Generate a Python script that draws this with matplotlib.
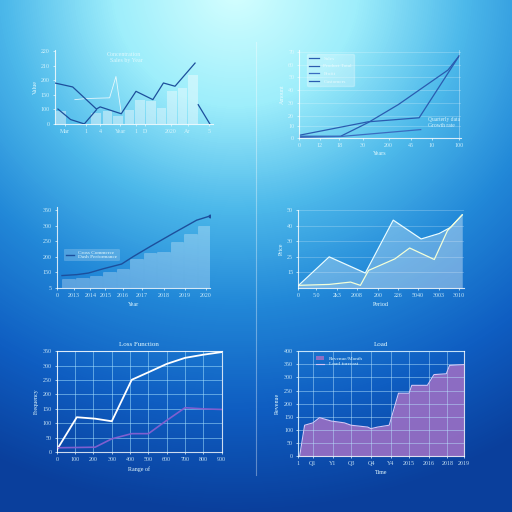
import numpy as np
import matplotlib.pyplot as plt
from matplotlib.colors import LinearSegmentedColormap

# ---------------- data ----------------
# panel 1 (top left): bars + lines
p1_bar_x = [0.6, 3.9, 5.0, 6.0, 7.1, 8.1, 9.1, 10.1, 11.1, 12.1, 13.1]
p1_bar_h = [35, 30, 35, 21, 39, 67, 62, 44, 90, 99, 136]
p1_a_x = [0, 1.7, 3.95, 4.3, 6.3, 7.7, 9.3, 10.3, 11.4, 13.3]
p1_a_y = [113, 102, 41, 47, 28, 90, 67, 113, 104, 168]
p1_b_x = [0.3, 1.5, 2.8, 3.95]
p1_b_y = [41, 12, 0, 39]
p1_c_x = [13.6, 14.7]
p1_c_y = [53, 0]
p1_w_x = [1.9, 3.0, 5.2, 5.8, 6.3]
p1_w_y = [67, 70, 72, 131, 30]
p1_xticks = [1, 3, 4.3, 6.2, 7.7, 8.6, 11.0, 12.6, 14.6]
p1_xlabels = ["Mar", "1", "4", "Year", "1", "D", "2020", "Ar", "5"]
p1_yticks = [0, 40, 80, 120, 160, 200]
p1_ylabels = ["0", "100", "150", "200", "210", "220"]

# panel 2 (top right): three lines
p2_a_x = [0, 43, 75, 100]
p2_a_y = [3.4, 19, 23.7, 95.5]
p2_b_x = [0, 26, 43, 62, 93, 100]
p2_b_y = [2.3, 2.3, 18, 39, 79, 95.5]
p2_c_x = [0, 26, 76]
p2_c_y = [1, 2, 10]
p2_legend = ["Sales", "Product Total", "Profit", "Customers"]
p2_xticks = [0, 13, 25, 40, 56, 70, 83, 100]
p2_xlabels = ["0", "12", "18", "30", "200", "45", "10", "100"]
p2_yticks = [0, 14, 26, 41, 56, 71, 85, 100]
p2_ylabels = ["0", "10", "20", "30", "40", "50", "60", "70"]

# panel 3 (middle left): bars + line
p3_bar_h = [30, 32, 37, 53, 61, 94, 112, 117, 149, 172, 200]
p3_line_x = [-0.5, 0.6, 1.45, 2.56, 3.9, 4.76, 6.0, 7.72, 9.44, 10.4]
p3_line_y = [40, 43, 48, 62, 77, 101, 133, 176, 218, 231]
p3_xticks = [-0.88, 0.4, 1.6, 2.7, 4.0, 5.4, 7.0, 8.6, 10.1]
p3_xlabels = ["0", "2013", "2014", "2015", "2016", "2017", "2018", "2019", "2020"]
p3_yticks = [0, 50, 100, 150, 200, 250]
p3_ylabels = ["5", "150", "200", "250", "300", "350"]

# panel 4 (middle right): two lines, filled
p4_top_x = [0, 19, 41, 58, 75, 86, 93, 100]
p4_top_y = [1.3, 20, 9.6, 43.6, 31.5, 35, 39, 47]
p4_low_x = [0, 19, 32, 38, 43, 59, 68, 83, 91, 100]
p4_low_y = [1.7, 2.3, 3.8, 1.7, 11.3, 18.7, 25.7, 18.3, 36.8, 47]
p4_xticks = [0, 11, 24, 36, 49, 61, 73, 86, 98]
p4_xlabels = ["0", "5.0", "2k3", "2008", "200", "226", "5040", "3003", "3010"]
p4_yticks = [10, 20, 30, 40, 50]
p4_ylabels = ["15", "25", "30", "40", "50"]

# panel 5 (bottom left): loss lines
p5_x = [0, 109, 209, 300, 409, 500, 600, 700, 800, 900]
p5_white = [8, 121, 116, 107, 251, 277, 306, 327, 338, 347]
p5_purple_x = [0, 209, 300, 409, 500, 600, 700, 800, 900]
p5_purple = [15, 17, 46, 64, 64, 110, 154, 150, 148]
p5_xlabels = ["0", "100", "200", "300", "400", "500", "600", "700", "800", "900"]
p5_yticks = [0, 50, 100, 150, 200, 250, 300, 350]

# panel 6 (bottom right): stepped area
p6_x = [0, 1, 4, 9, 13, 20, 28, 32, 42, 44, 48, 55, 60.6, 67, 68.6, 78, 82, 89.4, 91.4, 100]
p6_y = [0, 0, 118, 127, 147, 134, 127, 118, 111, 105, 111, 118, 240, 240, 270, 270, 311, 314, 346, 349]
p6_xticks = [0, 9, 21, 32, 44, 56, 67, 79, 90, 100]
p6_xlabels = ["1", "Q1", "Y1", "Q3", "Q4", "Y4", "2015", "2016", "2018", "2019"]
p6_yticks = [0, 50, 100, 150, 200, 250, 300, 350, 400]

TXT = "#e6fbff"
NAVY = "#1d4f9c"
PURPLE = "#7f5fd0"

plt.rcParams.update({"font.family": ["Liberation Serif", "DejaVu Serif"], "font.size": 4})

fig = plt.figure(figsize=(5.12, 5.12), dpi=100)

# ---------------- background gradient ----------------
bg = fig.add_axes([0, 0, 1, 1])
yy, xx = np.mgrid[0:512, 0:512]
d = np.sqrt(((xx - 235) / 512.0) ** 2 * 0.9 + ((yy + 10) / 512.0) ** 2)
cmap = LinearSegmentedColormap.from_list(
    "bg", [(0.0, "#d4ffff"), (0.22, "#9eeefb"), (0.42, "#4cb8ea"),
           (0.60, "#2288d8"), (0.80, "#0f5ec2"), (1.0, "#0a3f9c")])
bg.imshow(np.clip(d / 1.02, 0, 1), cmap=cmap, vmin=0, vmax=1,
          extent=[0, 512, 512, 0], aspect="auto")
bg.plot([256, 256], [42, 475], color="white", alpha=0.35, lw=0.8)
bg.set_xlim(0, 512)
bg.set_ylim(512, 0)
bg.axis("off")


def style(ax, full=False, alpha=0.8):
    ax.patch.set_alpha(0)
    for name, sp in ax.spines.items():
        sp.set_color("white")
        sp.set_alpha(alpha)
        sp.set_linewidth(0.8)
        if not full and name in ("top", "right"):
            sp.set_visible(False)
    ax.tick_params(colors=TXT, labelsize=4.3, length=1.5, width=0.5, pad=2)
    for lab in ax.get_xticklabels() + ax.get_yticklabels():
        lab.set_alpha(0.85)


# ---------------- panel 1 ----------------
ax1 = fig.add_axes([0.107, 0.758, 0.309, 0.145])
ax1.bar(p1_bar_x, p1_bar_h, width=0.9, color="white", alpha=0.4, zorder=1)
ax1.plot(p1_a_x, p1_a_y, color=NAVY, lw=0.9, zorder=3)
ax1.plot(p1_b_x, p1_b_y, color=NAVY, lw=0.9, zorder=3)
ax1.plot(p1_c_x, p1_c_y, color=NAVY, lw=0.9, zorder=3)
ax1.plot(p1_w_x, p1_w_y, color="white", lw=0.6, alpha=0.8, zorder=2)
ax1.set_xlim(0, 15)
ax1.set_ylim(0, 205)
ax1.set_yticks(p1_yticks)
ax1.set_yticklabels(p1_ylabels)
ax1.set_xticks(p1_xticks)
ax1.set_xticklabels(p1_xlabels)
ax1.set_ylabel("Value", color=TXT, fontsize=4.3, labelpad=2)
ax1.text(0.33, 0.83, "Concentration\n  Sales by Year", transform=ax1.transAxes,
         color=TXT, fontsize=4.3, alpha=0.9)
style(ax1)

# ---------------- panel 2 ----------------
ax2 = fig.add_axes([0.584, 0.730, 0.316, 0.172])
ax2.grid(axis="y", color="white", alpha=0.3, lw=0.5)
ax2.plot(p2_a_x, p2_a_y, color="#2a5cb0", lw=0.9, label=p2_legend[0])
ax2.plot(p2_b_x, p2_b_y, color="#2a5cb0", lw=0.9, label=p2_legend[1])
ax2.plot(p2_c_x, p2_c_y, color="#3a6cc0", lw=0.9, label=p2_legend[2])
ax2.plot([], [], color="#2a5cb0", lw=0.9, label=p2_legend[3])
ax2.set_xlim(0, 101)
ax2.set_ylim(0, 102)
ax2.set_xticks(p2_xticks)
ax2.set_xticklabels(p2_xlabels)
ax2.set_yticks(p2_yticks)
ax2.set_yticklabels(p2_ylabels)
ax2.set_xlabel("Years", color=TXT, fontsize=4.3, labelpad=2)
ax2.set_ylabel("Amount", color=TXT, fontsize=4.3, labelpad=2)
ax2.axvline(100, color="white", alpha=0.4, lw=0.6)
leg = ax2.legend(loc="upper left", fontsize=3.8, frameon=True,
                 bbox_to_anchor=(0.03, 0.99), handlelength=2, labelspacing=0.6)
leg.get_frame().set_facecolor("white")
leg.get_frame().set_alpha(0.25)
leg.get_frame().set_edgecolor("white")
for t in leg.get_texts():
    t.set_color(TXT)
ax2.text(0.80, 0.13, "Quarterly data\nGrowth rate", transform=ax2.transAxes,
         color=TXT, fontsize=4, alpha=0.9)
style(ax2)

# ---------------- panel 3 ----------------
ax3 = fig.add_axes([0.111, 0.4375, 0.299, 0.158])
ax3.bar(range(len(p3_bar_h)), p3_bar_h, width=0.93, color="white", alpha=0.28,
        edgecolor="white", linewidth=0.4)
ax3.plot(p3_line_x, p3_line_y, color=NAVY, lw=1.0, label="Cross Commerce\nDash Performance")
ax3.plot(p3_line_x[-1], p3_line_y[-1], "o", color=NAVY, ms=1.8)
ax3.set_xlim(-0.88, 10.42)
ax3.set_ylim(0, 260)
ax3.set_xticks(p3_xticks)
ax3.set_xticklabels(p3_xlabels)
ax3.set_yticks(p3_yticks)
ax3.set_yticklabels(p3_ylabels)
ax3.set_xlabel("Year", color=TXT, fontsize=4.3, labelpad=3)
leg3 = ax3.legend(loc="upper left", bbox_to_anchor=(0.03, 0.52), fontsize=3.8,
                  frameon=True, handlelength=1.5)
leg3.get_frame().set_facecolor("white")
leg3.get_frame().set_alpha(0.2)
leg3.get_frame().set_edgecolor("none")
for t in leg3.get_texts():
    t.set_color(TXT)
style(ax3)

# ---------------- panel 4 ----------------
ax4 = fig.add_axes([0.582, 0.4375, 0.324, 0.152])
ax4.grid(axis="y", color="white", alpha=0.3, lw=0.5)
ax4.fill_between(p4_top_x, p4_top_y, color="white", alpha=0.28, lw=0)
ax4.fill_between(p4_low_x, p4_low_y, color="white", alpha=0.12, lw=0)
ax4.plot(p4_top_x, p4_top_y, color="#eafcff", lw=0.9)
ax4.plot(p4_low_x, p4_low_y, color="#f4ffd8", lw=0.9)
ax4.set_xlim(0, 101)
ax4.set_ylim(0, 50)
ax4.set_xticks(p4_xticks)
ax4.set_xticklabels(p4_xlabels)
ax4.set_yticks(p4_yticks)
ax4.set_yticklabels(p4_ylabels)
ax4.set_xlabel("Period", color=TXT, fontsize=4.3, labelpad=3)
ax4.set_ylabel("Price", color=TXT, fontsize=4.3, labelpad=2)
style(ax4)

# ---------------- panel 5 ----------------
ax5 = fig.add_axes([0.111, 0.117, 0.322, 0.197])
ax5.grid(True, color="#a8e4ff", alpha=0.6, lw=0.6)
ax5.plot(p5_x, p5_white, color="white", lw=1.3)
ax5.plot(p5_purple_x, p5_purple, color=PURPLE, lw=1.2)
ax5.set_xlim(0, 900)
ax5.set_ylim(0, 350)
ax5.set_xticks(range(0, 901, 100))
ax5.set_xticklabels(p5_xlabels)
ax5.set_yticks(p5_yticks)
ax5.set_title("Loss Function", color=TXT, fontsize=5, pad=4)
ax5.set_xlabel("Range of", color=TXT, fontsize=4.3, labelpad=3)
ax5.set_ylabel("Frequency", color=TXT, fontsize=4.3, labelpad=3)
style(ax5, full=True)

# ---------------- panel 6 ----------------
ax6 = fig.add_axes([0.582, 0.109, 0.324, 0.205])
ax6.fill_between(p6_x, p6_y, color="#9b6fc4", alpha=0.9, lw=0,
                 label="Revenue/Month", zorder=1)
ax6.plot(p6_x, p6_y, color="#d8c4f4", lw=0.8, label="Load forecast", zorder=3)
ax6.grid(True, color="#b8e6ff", alpha=0.55, lw=0.6, zorder=2)
ax6.set_axisbelow(False)
ax6.set_xlim(0, 100)
ax6.set_ylim(0, 400)
ax6.set_xticks(p6_xticks)
ax6.set_xticklabels(p6_xlabels)
ax6.set_yticks(p6_yticks)
ax6.set_title("Load", color=TXT, fontsize=5, pad=4)
ax6.set_xlabel("Time", color=TXT, fontsize=4.3, labelpad=3)
ax6.set_ylabel("Revenue", color=TXT, fontsize=4.3, labelpad=3)
leg6 = ax6.legend(loc="upper left", bbox_to_anchor=(0.08, 1.0), fontsize=3.8,
                  frameon=False, handlelength=1.6, labelspacing=0.2)
for t in leg6.get_texts():
    t.set_color(TXT)
style(ax6, full=True)

fig.savefig("out.png", dpi=100)
